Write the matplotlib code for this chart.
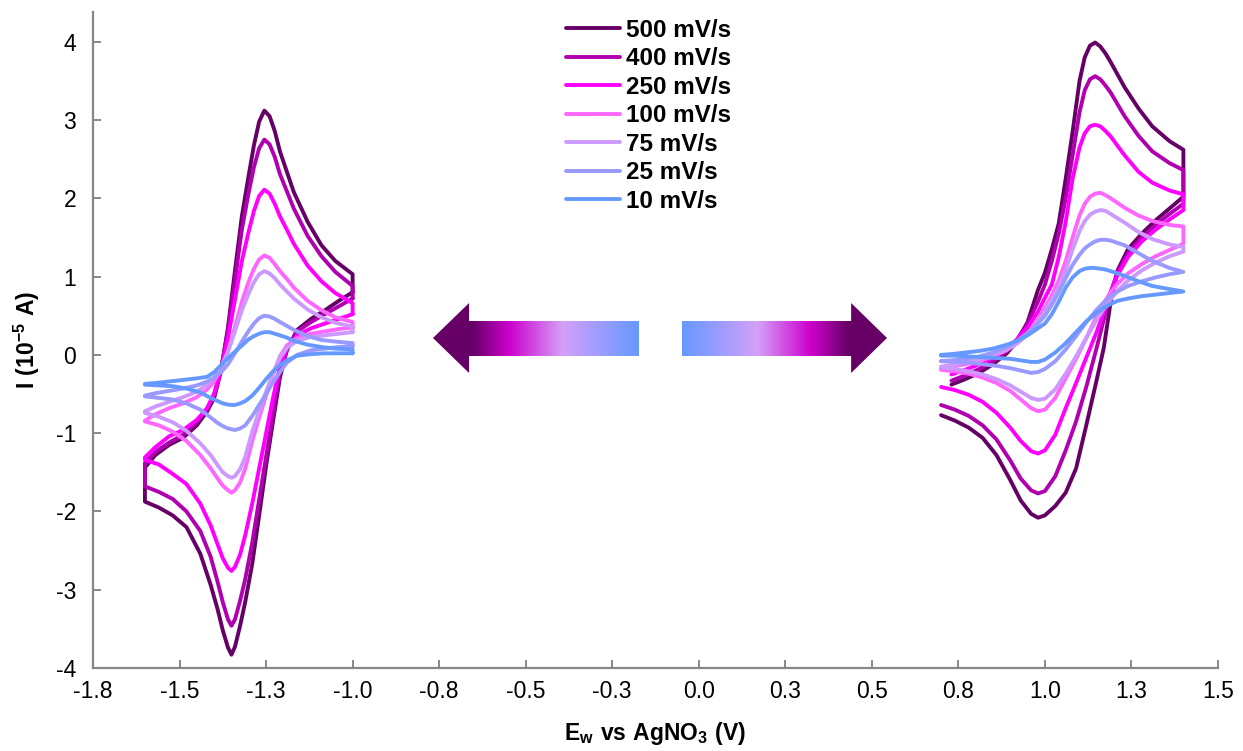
import numpy as np
import matplotlib
matplotlib.use("Agg")
import matplotlib.pyplot as plt
from matplotlib.colors import LinearSegmentedColormap
from matplotlib.patches import Polygon

plt.rcParams["font.family"] = ["Liberation Sans", "DejaVu Sans"]
plt.rcParams["axes.unicode_minus"] = False
plt.rcParams["mathtext.fontset"] = "custom"
plt.rcParams["mathtext.rm"] = "Liberation Sans"
plt.rcParams["mathtext.bf"] = "Liberation Sans:bold"

nan = np.nan

# scan rates, legend order
rate_labels = ["500 mV/s", "400 mV/s", "250 mV/s", "100 mV/s", "75 mV/s", "25 mV/s", "10 mV/s"]
rate_colors = ["#660066", "#B000B0", "#FF00FF", "#FF66FF", "#CC99FF", "#9999FF", "#6699FF"]

# potential grids (V) - negative window (reduction couple)
left_x_up = [-1.60, -1.57, -1.53, -1.49, -1.45, -1.42, -1.40, -1.38, -1.36, -1.34, -1.32, -1.30,
             -1.285, -1.27, -1.255, -1.24, -1.225, -1.21, -1.19, -1.17, -1.13, -1.09, -1.05, -1.00]
left_x_dn = [-1.60, -1.56, -1.52, -1.48, -1.44, -1.41, -1.39, -1.375, -1.36, -1.35, -1.34, -1.325,
             -1.31, -1.29, -1.27, -1.25, -1.23, -1.21, -1.19, -1.16, -1.12, -1.08, -1.04, -1.00]

# potential grids (V) - positive window (oxidation couple)
right_x_up = [0.70, 0.73, 0.77, 0.81, 0.85, 0.89, 0.92, 0.95, 0.98, 1.00, 1.02, 1.04, 1.06,
              1.08, 1.10, 1.115, 1.13, 1.145, 1.16, 1.175, 1.19, 1.23, 1.27, 1.31, 1.36, 1.40]
right_x_dn = [0.70, 0.74, 0.78, 0.82, 0.86, 0.90, 0.93, 0.96, 0.98, 1.00, 1.03, 1.06,
              1.09, 1.12, 1.15, 1.17, 1.19, 1.21, 1.24, 1.28, 1.32, 1.36, 1.40]

# current (10^-5 A), negative window, return sweep (upper branch)
left_up_500 = [-1.44, -1.28, -1.15, -1.06, -0.90, -0.72, -0.55, -0.20, 0.35, 1.07, 1.77, 2.30,
               2.68, 2.98, 3.12, 3.05, 2.86, 2.60, 2.34, 2.08, 1.70, 1.40, 1.20, 1.03]
left_up_400 = [-1.38, -1.24, -1.12, -1.02, -0.86, -0.68, -0.50, -0.18, 0.32, 0.95, 1.60, 2.08,
               2.40, 2.64, 2.75, 2.69, 2.53, 2.31, 2.09, 1.87, 1.52, 1.26, 1.06, 0.88]
left_up_250 = [-1.31, -1.18, -1.04, -0.96, -0.83, -0.68, -0.50, -0.20, 0.22, 0.70, 1.20, 1.58,
               1.84, 2.03, 2.11, 2.06, 1.93, 1.77, 1.60, 1.42, 1.14, 0.94, 0.79, 0.66]
left_up_100 = [-0.84, -0.76, -0.68, -0.62, -0.54, -0.44, -0.34, -0.18, 0.05, 0.35, 0.68, 0.94,
               1.10, 1.22, 1.27, 1.24, 1.16, 1.07, 0.97, 0.86, 0.69, 0.57, 0.48, 0.42]
left_up_75 = [-0.72, -0.66, -0.60, -0.54, -0.47, -0.38, -0.29, -0.15, 0.04, 0.30, 0.57, 0.79,
              0.93, 1.03, 1.07, 1.04, 0.98, 0.90, 0.81, 0.72, 0.58, 0.48, 0.41, 0.36]
left_up_25 = [-0.52, -0.49, -0.46, -0.43, -0.39, -0.34, -0.29, -0.22, -0.12, 0.02, 0.17, 0.31,
              0.40, 0.47, 0.50, 0.49, 0.46, 0.42, 0.37, 0.32, 0.24, 0.19, 0.17, 0.15]
left_up_10 = [-0.37, -0.36, -0.34, -0.32, -0.30, -0.28, -0.22, -0.13, -0.04, 0.04, 0.12, 0.20,
              0.24, 0.27, 0.29, 0.29, 0.27, 0.25, 0.22, 0.18, 0.13, 0.10, 0.08, 0.07]

# current (10^-5 A), negative window, forward sweep (lower branch)
left_dn_500 = [-1.875, -1.95, -2.05, -2.20, -2.54, -2.94, -3.25, -3.52, -3.74, -3.83, -3.73, -3.46,
               -3.15, -2.67, -2.05, -1.42, -0.85, -0.29, 0.06, 0.32, 0.46, 0.57, 0.69, 0.80]
left_dn_400 = [-1.68, -1.75, -1.84, -2.00, -2.25, -2.58, -2.90, -3.16, -3.38, -3.46, -3.38, -3.14,
               -2.86, -2.40, -1.85, -1.30, -0.75, -0.22, 0.06, 0.30, 0.42, 0.52, 0.62, 0.72]
left_dn_250 = [-1.34, -1.40, -1.52, -1.65, -1.90, -2.18, -2.42, -2.60, -2.72, -2.76, -2.71, -2.55,
               -2.30, -1.90, -1.45, -1.00, -0.55, -0.15, 0.08, 0.25, 0.34, 0.40, 0.46, 0.52]
left_dn_100 = [-0.85, -0.90, -0.98, -1.10, -1.28, -1.45, -1.58, -1.67, -1.73, -1.76, -1.73, -1.63,
               -1.45, -1.10, -0.80, -0.52, -0.25, -0.02, 0.12, 0.22, 0.27, 0.30, 0.33, 0.35]
left_dn_75 = [-0.74, -0.79, -0.86, -0.97, -1.13, -1.28, -1.41, -1.50, -1.55, -1.57, -1.55, -1.46,
              -1.30, -0.98, -0.72, -0.47, -0.24, -0.04, 0.09, 0.18, 0.23, 0.25, 0.27, 0.29]
left_dn_25 = [-0.53, -0.55, -0.57, -0.62, -0.70, -0.80, -0.87, -0.91, -0.94, -0.95, -0.96, -0.94,
              -0.90, -0.78, -0.64, -0.50, -0.35, -0.22, -0.10, 0.00, 0.06, 0.08, 0.10, 0.11]
left_dn_10 = [-0.38, -0.39, -0.40, -0.43, -0.48, -0.55, -0.59, -0.62, -0.635, -0.64, -0.64, -0.62,
              -0.59, -0.52, -0.42, -0.31, -0.21, -0.13, -0.07, -0.01, 0.01, 0.02, 0.02, 0.02]

# current (10^-5 A), positive window, forward sweep (upper branch)
right_up_500 = [nan, -0.38, -0.31, -0.23, -0.12, 0.02, 0.18, 0.42, 0.83, 1.05, 1.35, 1.68, 2.25,
                2.85, 3.50, 3.80, 3.95, 3.99, 3.94, 3.85, 3.74, 3.42, 3.15, 2.92, 2.73, 2.62]
right_up_400 = [nan, -0.33, -0.26, -0.18, -0.08, 0.05, 0.20, 0.40, 0.68, 0.90, 1.20, 1.55, 2.00,
                2.55, 3.10, 3.38, 3.52, 3.56, 3.52, 3.44, 3.35, 3.05, 2.80, 2.60, 2.45, 2.36]
right_up_250 = [nan, -0.25, -0.19, -0.12, -0.03, 0.08, 0.20, 0.35, 0.55, 0.73, 0.90, 1.25, 1.70,
                2.25, 2.65, 2.83, 2.92, 2.94, 2.92, 2.86, 2.79, 2.55, 2.34, 2.20, 2.10, 2.05]
right_up_100 = [-0.17, -0.15, -0.12, -0.08, -0.02, 0.06, 0.15, 0.27, 0.45, 0.60, 0.76, 0.95, 1.20,
                1.50, 1.78, 1.93, 2.02, 2.06, 2.07, 2.04, 2.00, 1.88, 1.78, 1.71, 1.66, 1.64]
right_up_75 = [-0.15, -0.13, -0.10, -0.06, 0.00, 0.07, 0.15, 0.26, 0.42, 0.55, 0.70, 0.86, 1.08,
               1.35, 1.58, 1.71, 1.79, 1.83, 1.85, 1.84, 1.80, 1.69, 1.57, 1.48, 1.41, 1.38]
right_up_25 = [-0.08, -0.07, -0.05, -0.02, 0.03, 0.10, 0.18, 0.28, 0.40, 0.50, 0.64, 0.80, 0.98,
               1.15, 1.28, 1.36, 1.41, 1.45, 1.47, 1.47, 1.46, 1.40, 1.30, 1.20, 1.11, 1.06]
right_up_10 = [0.00, 0.01, 0.03, 0.05, 0.08, 0.13, 0.18, 0.25, 0.34, 0.40, 0.52, 0.68, 0.86,
               0.99, 1.07, 1.10, 1.11, 1.11, 1.10, 1.09, 1.07, 1.01, 0.94, 0.88, 0.84, 0.81]

# current (10^-5 A), positive window, return sweep (lower branch)
right_dn_500 = [-0.77, -0.84, -0.93, -1.06, -1.28, -1.60, -1.86, -2.03, -2.08, -2.05, -1.93, -1.76,
                -1.45, -0.89, -0.31, 0.09, 0.68, 1.08, 1.35, 1.55, 1.72, 1.87, 2.02]
right_dn_400 = [-0.64, -0.70, -0.78, -0.90, -1.08, -1.35, -1.58, -1.73, -1.77, -1.74, -1.55, -1.22,
                -0.85, -0.40, 0.10, 0.45, 0.80, 1.06, 1.30, 1.50, 1.66, 1.80, 1.93]
right_dn_250 = [-0.41, -0.45, -0.51, -0.60, -0.74, -0.93, -1.10, -1.23, -1.26, -1.22, -1.02, -0.68,
                -0.36, -0.03, 0.30, 0.55, 0.80, 1.02, 1.25, 1.45, 1.60, 1.73, 1.85]
right_dn_100 = [-0.19, -0.21, -0.24, -0.29, -0.36, -0.46, -0.57, -0.68, -0.72, -0.70, -0.55, -0.30,
                -0.05, 0.22, 0.50, 0.66, 0.80, 0.91, 1.04, 1.16, 1.26, 1.34, 1.42]
right_dn_75 = [-0.16, -0.18, -0.21, -0.25, -0.31, -0.39, -0.47, -0.55, -0.575, -0.56, -0.44, -0.24,
               -0.02, 0.22, 0.45, 0.59, 0.71, 0.82, 0.95, 1.08, 1.18, 1.26, 1.32]
right_dn_25 = [-0.08, -0.09, -0.10, -0.12, -0.14, -0.17, -0.20, -0.23, -0.22, -0.18, -0.08, 0.07,
               0.24, 0.42, 0.58, 0.67, 0.75, 0.81, 0.88, 0.94, 0.99, 1.03, 1.06]
right_dn_10 = [-0.01, -0.01, -0.02, -0.03, -0.04, -0.05, -0.07, -0.09, -0.09, -0.06, 0.03, 0.15,
               0.29, 0.43, 0.54, 0.60, 0.65, 0.69, 0.72, 0.75, 0.77, 0.79, 0.81]

x_ticks = [-1.75, -1.5, -1.25, -1.0, -0.75, -0.5, -0.25, 0.0, 0.25, 0.5, 0.75, 1.0, 1.25, 1.5]
y_ticks = [-4, -3, -2, -1, 0, 1, 2, 3, 4]

curves = [
    (left_up_500, left_dn_500, right_up_500, right_dn_500),
    (left_up_400, left_dn_400, right_up_400, right_dn_400),
    (left_up_250, left_dn_250, right_up_250, right_dn_250),
    (left_up_100, left_dn_100, right_up_100, right_dn_100),
    (left_up_75, left_dn_75, right_up_75, right_dn_75),
    (left_up_25, left_dn_25, right_up_25, right_dn_25),
    (left_up_10, left_dn_10, right_up_10, right_dn_10),
]


def excel_round(v):
    # Excel arrondit 0.5 vers l'exterieur : -1.25 -> -1.3
    r = np.sign(v) * np.floor(abs(v) * 10 + 0.5) / 10
    return "%.1f" % (r + 0.0)


def gradient_arrow(fig, rect, pointing):
    """Fleche decorative avec un degrade violet -> bleu."""
    ax = fig.add_axes(rect)
    ax.set_axis_off()
    stops = [(0.0, "#660066"), (0.19, "#660066"), (0.37, "#CC00CC"),
             (0.63, "#D4A0F8"), (0.82, "#9A9CFF"), (1.0, "#6699FF")]
    cmap = LinearSegmentedColormap.from_list("arrow", stops)
    grad = np.linspace(0, 1, 256).reshape(1, -1)
    head = 0.175
    if pointing == "left":
        pts = [(0, 0.5), (head, 1), (head, 0.743), (1, 0.743), (1, 0.243), (head, 0.243), (head, 0)]
    else:
        grad = grad[:, ::-1]
        pts = [(1, 0.5), (1 - head, 1), (1 - head, 0.743), (0, 0.743), (0, 0.243), (1 - head, 0.243), (1 - head, 0)]
    im = ax.imshow(grad, cmap=cmap, extent=[0, 1, 0, 1], aspect="auto", interpolation="bilinear")
    poly = Polygon(pts, closed=True, facecolor="none", edgecolor="none", transform=ax.transData)
    ax.add_patch(poly)
    im.set_clip_path(poly)
    ax.set_xlim(0, 1)
    ax.set_ylim(0, 1)


W, H = 1243, 751
fig = plt.figure(figsize=(W / 100, H / 100), dpi=100)
ax = fig.add_axes([93 / W, 1 - 668 / H, (1218 - 93) / W, (668 - 12) / H])

for (lu, ld, ru, rd), label, color in zip(curves, rate_labels, rate_colors):
    # fenetre negative : aller vers -1.6 V puis retour vers -1.0 V
    lx = np.concatenate([np.array(left_x_dn)[::-1], left_x_up, [left_x_dn[-1]]])
    ly = np.concatenate([np.array(ld)[::-1], lu, [ld[-1]]])
    ax.plot(lx, ly, color=color, lw=2.8, label=label, solid_joinstyle="round", solid_capstyle="round")
    # fenetre positive : aller vers 1.4 V puis retour vers 0.7 V
    rx = np.concatenate([right_x_up, np.array(right_x_dn)[::-1]])
    ry = np.concatenate([ru, np.array(rd)[::-1]])
    ax.plot(rx, ry, color=color, lw=2.8, solid_joinstyle="round", solid_capstyle="round")

ax.set_xlim(-1.75, 1.5)
ax.set_ylim(-4, 4.38)
ax.set_xticks(x_ticks)
ax.set_xticklabels([excel_round(v) for v in x_ticks])
ax.set_yticks(y_ticks)
ax.set_yticklabels([str(v) for v in y_ticks])

for side in ["top", "right"]:
    ax.spines[side].set_visible(False)
for side in ["left", "bottom"]:
    ax.spines[side].set_color("#888888")
    ax.spines[side].set_linewidth(1.6)
ax.tick_params(direction="in", length=6, width=1.4, color="#888888", labelsize=16.5)
ax.tick_params(axis="x", pad=9)
ax.tick_params(axis="y", pad=12)

ax.set_xlabel(r"$\mathbf{E_{w}\ vs\ AgNO_{3}\ (V)}$", fontsize=16.5, labelpad=12)
ax.set_ylabel(r"$\mathbf{I\ (10^{-5}\ A)}$", fontsize=16.5, labelpad=10)

ax.legend(loc="upper left", bbox_to_anchor=(566 / W, 1 - 19 / H), bbox_transform=fig.transFigure,
          frameon=False, handlelength=2.22, handletextpad=0.25, labelspacing=0.225,
          borderpad=0, borderaxespad=0, prop={"weight": "bold", "size": 17.5})

gradient_arrow(fig, [433 / W, 1 - 373 / H, 206 / W, 70 / H], "left")
gradient_arrow(fig, [682 / W, 1 - 373 / H, 205 / W, 70 / H], "right")

fig.savefig("out.png", dpi=100)
